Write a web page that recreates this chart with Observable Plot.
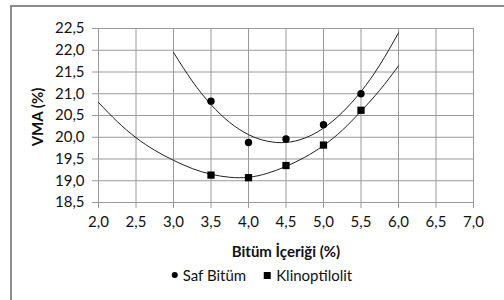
<!DOCTYPE html>
<html>
<head>
<meta charset="utf-8">
<script src="https://cdn.jsdelivr.net/npm/d3@7"></script>
<script src="https://cdn.jsdelivr.net/npm/@observablehq/plot@0.6"></script>
<style>
html,body{margin:0;padding:0;background:#fff;overflow:hidden;}
#wrap{position:relative;width:504px;height:300px;overflow:hidden;font-family:Lato,"Open Sans",sans-serif;color:#111;}
#frame{position:absolute;left:10px;top:5px;width:560px;height:360px;border:2px solid #8c8c8c;box-sizing:border-box;}
#chart{position:absolute;left:0;top:0;}
.ytitle{position:absolute;left:37px;top:117px;transform:translate(-50%,-50%) rotate(-90deg);font-weight:bold;font-size:15px;white-space:nowrap;}
.xtitle{position:absolute;left:286px;top:251px;transform:translate(-50%,-50%);font-weight:bold;font-size:15px;white-space:nowrap;}
.legend{position:absolute;left:262px;top:275px;transform:translate(-50%,-50%);font-size:15px;white-space:nowrap;display:flex;align-items:center;}
.sw{display:inline-block;background:#000;margin-right:5px;}
.sw.c{width:6px;height:6px;border-radius:50%;}
.sw.s{width:7px;height:7px;margin-left:18px;}
</style>
</head>
<body>
<div id="wrap">
  <div id="frame"></div>
  <div id="chart"></div>
  <div class="ytitle">VMA (%)</div>
  <div class="xtitle">Bitüm İçeriği (%)</div>
  <div class="legend" id="legend"></div>
</div>
<script>
// ---- data ----
const xTicks = [2.0, 2.5, 3.0, 3.5, 4.0, 4.5, 5.0, 5.5, 6.0, 6.5, 7.0];
const yTicks = [18.5, 19.0, 19.5, 20.0, 20.5, 21.0, 21.5, 22.0, 22.5];
const seriesNames = ["Saf Bitüm", "Klinoptilolit"];
const bitumContent = [3.5, 4.0, 4.5, 5.0, 5.5];
const safBitum = [20.83, 19.88, 19.96, 20.29, 21.00];
const klinoptilolit = [19.13, 19.07, 19.35, 19.82, 20.62];
// trendlines
const safTrendX = [3.0, 3.25, 3.5, 3.75, 4.0, 4.25, 4.5, 4.75, 5.0, 5.25, 5.5, 5.75, 6.0];
const safTrendY = [21.95, 21.29, 20.75, 20.34, 20.06, 19.91, 19.88, 19.98, 20.21, 20.57, 21.05, 21.66, 22.40];
const klinTrendX = [2.0, 2.25, 2.5, 2.75, 3.0, 3.25, 3.5, 3.75, 4.0, 4.25, 4.5, 4.75, 5.0, 5.25, 5.5, 5.75, 6.0];
const klinTrendY = [20.80, 20.36, 19.99, 19.70, 19.47, 19.28, 19.15, 19.08, 19.08, 19.17, 19.33, 19.54, 19.81, 20.16, 20.60, 21.08, 21.64];

const fmt = d => d.toFixed(1).replace(".", ",");
const safPts = bitumContent.map((x, i) => ({x, y: safBitum[i]}));
const klinPts = bitumContent.map((x, i) => ({x, y: klinoptilolit[i]}));
const safTrend = safTrendX.map((x, i) => ({x, y: safTrendY[i]}));
const klinTrend = klinTrendX.map((x, i) => ({x, y: klinTrendY[i]}));

const chart = Plot.plot({
  width: 504,
  height: 300,
  marginLeft: 98,
  marginRight: 31,
  marginTop: 28,
  marginBottom: 98,
  style: {fontFamily: "Lato, 'Open Sans', sans-serif", fontSize: "15px", color: "#111", background: "transparent", overflow: "visible"},
  x: {domain: [2, 7]},
  y: {domain: [18.5, 22.5]},
  marks: [
    Plot.ruleX(xTicks, {stroke: "#9a9a9a", strokeWidth: 1}),
    Plot.ruleY(yTicks, {stroke: "#9a9a9a", strokeWidth: 1}),
    Plot.axisX({ticks: xTicks, tickFormat: fmt, tickSize: 6, tickPadding: 8, stroke: "#9a9a9a", label: null}),
    Plot.axisY({ticks: yTicks, tickFormat: fmt, tickSize: 6, tickPadding: 8, stroke: "#9a9a9a", label: null}),
    Plot.line(klinTrend, {x: "x", y: "y", curve: "natural", stroke: "#222", strokeWidth: 1}),
    Plot.line(safTrend, {x: "x", y: "y", curve: "natural", stroke: "#222", strokeWidth: 1}),
    Plot.dot(safPts, {x: "x", y: "y", r: 3.7, fill: "#000", stroke: null, symbol: "circle"}),
    Plot.dot(klinPts, {x: "x", y: "y", r: 4.1, fill: "#000", stroke: null, symbol: "square"})
  ]
});
document.getElementById("chart").appendChild(chart);

const legend = document.getElementById("legend");
seriesNames.forEach((name, i) => {
  const sw = document.createElement("span");
  sw.className = "sw " + (i === 0 ? "c" : "s");
  legend.appendChild(sw);
  const t = document.createElement("span");
  t.textContent = name;
  legend.appendChild(t);
});
</script>
</body>
</html>
